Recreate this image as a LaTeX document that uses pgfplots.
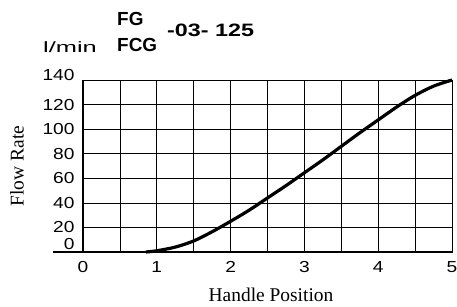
\documentclass[border=0pt]{standalone}
\usepackage{fontspec}
\setmainfont{Liberation Serif}
\newfontfamily\ticksf[FakeStretch=1.2]{Liberation Sans}
\newfontfamily\numsf[FakeStretch=1.3]{Liberation Sans}
\newfontfamily\titlesf{Liberation Sans}
\newfontfamily\unitsf[FakeStretch=1.7]{Liberation Sans}
\usepackage{pgfplots}
\pgfplotsset{compat=1.18}
\begin{document}
\begin{tikzpicture}[x=1bp,y=1bp]
\path[use as bounding box] (-83,-54) rectangle (374,252);
\begin{axis}[
  at={(0,0)}, anchor=origin,
  scale only axis, width=369bp, height=172bp,
  xmin=0, xmax=5, ymin=0, ymax=140,
  xtick={0,1,2,3,4,5},
  xticklabels={0,1,2,3,4,5},
  minor xtick={0.5,1.5,2.5,3.5,4.5},
  ytick={0,20,40,60,80,100,120,140},
  yticklabels={\raisebox{17bp}{0},20,40,60,80,100,120,\raisebox{10bp}{140}},
  major tick length=0, minor tick length=0,
  grid=both,
  major grid style={black, line width=0.7bp},
  minor grid style={black, line width=0.7bp},
  axis line style={black, line width=1bp},
  ticklabel style={font=\ticksf\fontsize{16}{16}\selectfont},
  xticklabel style={yshift=-6bp},
  yticklabel style={xshift=-5bp},
  clip=false,
]
\addplot[black, line width=3.2bp, smooth] coordinates {
(0.85,0) (1,1) (1.25,4) (1.5,9) (1.75,16.5) (2,25) (2.25,34) (2.5,44)
(2.75,54) (3,64.5) (3.25,75) (3.5,86) (3.75,97) (4,107.5) (4.25,118)
(4.5,127.5) (4.75,135) (5,140)};
\draw[black, line width=1.8bp] ([xshift=-30bp]axis cs:0,0) -- (axis cs:5,0);
\end{axis}
\node[anchor=west, inner sep=0, font=\titlesf\bfseries\fontsize{19}{19}\selectfont] at (34,233.5) {FG};
\node[anchor=west, inner sep=0, font=\titlesf\bfseries\fontsize{19}{19}\selectfont] at (34,207) {FCG};
\node[anchor=west, inner sep=0, font=\numsf\bfseries\fontsize{18}{18}\selectfont] at (84,222) {-03- 125};
\node[inner sep=0, font=\unitsf\fontsize{15}{15}\selectfont] at (-13,204.5) {l/min};
\node[rotate=90, inner sep=0, font=\fontsize{19.5}{19.5}\selectfont] at (-66,86) {Flow Rate};
\node[inner sep=0, font=\fontsize{19.5}{19.5}\selectfont] at (188,-43) {Handle Position};
\end{tikzpicture}
\end{document}
